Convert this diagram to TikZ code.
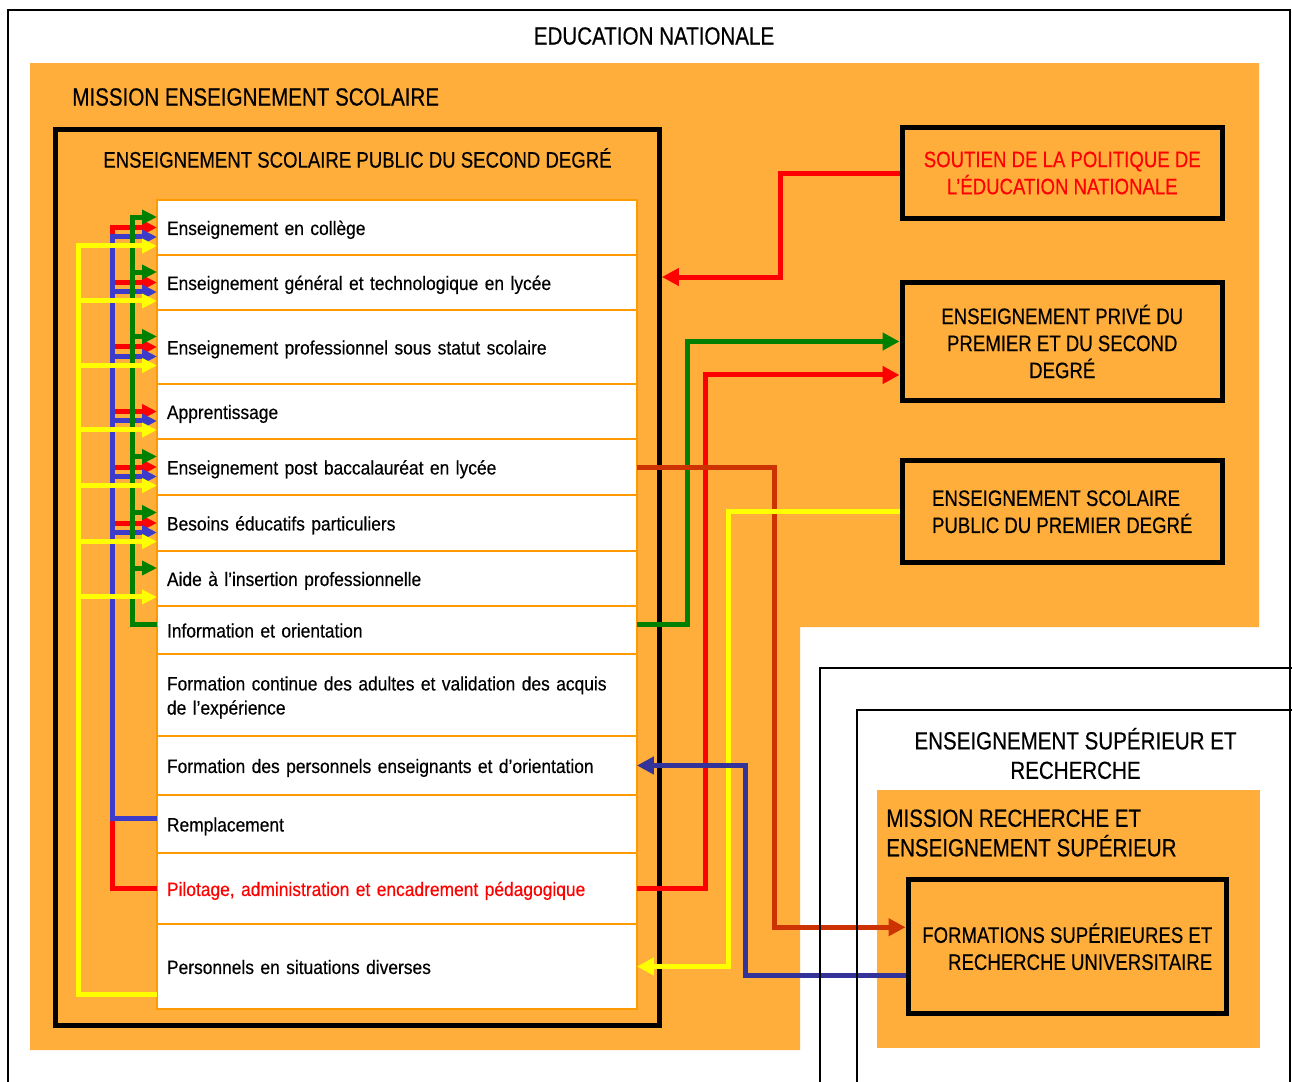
\documentclass[tikz,border=0pt]{standalone}
\usepackage{fontspec}
\setmainfont[FakeStretch=0.9,FakeBold=0.4]{Liberation Sans}
\newfontfamily\capsfam[FakeStretch=0.83,FakeBold=0.4]{Liberation Sans}
\usetikzlibrary{arrows.meta}

\definecolor{mission}{RGB}{255,174,59}
\definecolor{rowline}{RGB}{255,153,0}
\definecolor{lgreen}{RGB}{0,128,0}
\definecolor{lblue}{RGB}{60,60,200}
\definecolor{dblue}{RGB}{51,51,153}
\definecolor{rust}{RGB}{204,51,0}
\definecolor{lred}{RGB}{255,0,0}
\definecolor{lyellow}{RGB}{255,255,0}

\newcommand{\headfont}{\capsfam\fontsize{14.1}{16.8}\selectfont}
\newcommand{\boxfont}{\capsfam\fontsize{12.75}{15.4}\selectfont}
\newcommand{\rowfont}{\fontsize{11}{13.7}\selectfont}

\begin{document}
\begin{tikzpicture}[
  x=0.02cm, y=-0.02cm,
  rowbox/.style={draw=rowline, fill=white, line width=0.04cm, outer sep=0pt,
    anchor=north west, minimum width=9.6cm, text width=9.2cm, align=left,
    inner xsep=0.2cm, inner ysep=0pt, font=\rowfont,
    text height=0.85em, text depth=0pt},
  thickbox/.style={draw=black, line width=0.1cm, inner sep=0pt},
  thinline/.style={draw=black, line width=0.04cm},
  conn/.style={line width=0.1cm},
  ltip/.style={-{Triangle[length=0.3cm,width=0.28cm]}},
  rtip/.style={-{Triangle[length=0.34cm,width=0.34cm]}}
  ]
	\useasboundingbox (0,0) rectangle (1292,1082);
	\fill[white] (0,0) rectangle (1292,1082);

	% frames
	\draw[thinline] (8,1082) -- (8,10) -- (1290,10) -- (1290,1082);
	\fill[mission] (30,63) -- (1259,63) -- (1259,627) -- (800,627) -- (800,1050) -- (30,1050) -- cycle;
	\node[font=\headfont] (edu) at (654,36) {EDUCATION NATIONALE};
	\node[font=\headfont, anchor=west, inner sep=0pt] (mes) at (72,97) {MISSION ENSEIGNEMENT SCOLAIRE};

	\node[thickbox, minimum width=12.08cm, minimum height=17.93cm] (secframe) at (357.5,577.75) {};
	\node[font=\boxfont, anchor=west, inner sep=0pt] (sectitle) at (103,158) {ENSEIGNEMENT SCOLAIRE PUBLIC DU SECOND DEGRÉ};

	% programmes
	\node[rowbox, minimum height=1.1cm] (r1) at (157,200) {Enseignement en collège};
	\node[rowbox, minimum height=1.1cm] (r2) at (157,255) {Enseignement général et technologique en lycée};
	\node[rowbox, minimum height=1.48cm] (r3) at (157,310) {Enseignement professionnel sous statut scolaire};
	\node[rowbox, minimum height=1.1cm] (r4) at (157,384) {Apprentissage};
	\node[rowbox, minimum height=1.12cm] (r5) at (157,439) {Enseignement post baccalauréat en lycée};
	\node[rowbox, minimum height=1.12cm] (r6) at (157,495) {Besoins éducatifs particuliers};
	\node[rowbox, minimum height=1.1cm] (r7) at (157,551) {Aide à l’insertion professionnelle};
	\node[rowbox, minimum height=0.96cm] (r8) at (157,606) {Information et orientation};
	\node[rowbox, minimum height=1.64cm, text depth=13.7pt] (r9) at (157,654) {Formation continue des adultes et validation des acquis\\de l’expérience};
	\node[rowbox, minimum height=1.18cm] (r10) at (157,736) {Formation des personnels enseignants et d’orientation};
	\node[rowbox, minimum height=1.16cm] (r11) at (157,795) {Remplacement};
	\node[rowbox, minimum height=1.42cm, text=lred] (r12) at (157,853) {Pilotage, administration et encadrement pédagogique};
	\node[rowbox, minimum height=1.7cm] (r13) at (157,924) {Personnels en situations diverses};

	% other programmes
	\node[thickbox, minimum width=6.41cm, minimum height=1.84cm, align=center, font=\boxfont, text=lred] (soutien) at (1062.25,173) {SOUTIEN DE LA POLITIQUE DE\\L’ÉDUCATION NATIONALE};
	\node[thickbox, minimum width=6.41cm, minimum height=2.38cm, align=center, font=\boxfont] (priv) at (1062.25,341.5) {ENSEIGNEMENT PRIVÉ DU\\PREMIER ET DU SECOND\\DEGRÉ};
	\node[thickbox, minimum width=6.41cm, minimum height=2.05cm, align=left, font=\boxfont] (pub1) at (1062.25,511.75) {ENSEIGNEMENT SCOLAIRE\\PUBLIC DU PREMIER DEGRÉ};

	% enseignement superieur
	\fill[mission] (877,790) rectangle (1260,1048);
	\node[font=\headfont, align=center] (esrtitle) at (1075.5,753.5) {ENSEIGNEMENT SUPÉRIEUR ET\\RECHERCHE};
	\node[font=\headfont, align=left, anchor=west, inner sep=0pt] (mres) at (886,833) {MISSION RECHERCHE ET\\ENSEIGNEMENT SUPÉRIEUR};
	\node[thickbox, minimum width=6.37cm, minimum height=2.68cm, align=right, font=\boxfont] (formbox) at (1067.25,946.75) {FORMATIONS SUPÉRIEURES ET\\RECHERCHE UNIVERSITAIRE};

	% left buses
	\coordinate (ybus) at (78,0);
	\coordinate (rbus) at (112,0);
	\coordinate (gbus) at (132,0);
	\foreach \r in {1,...,7} {
		\coordinate (g\r) at ([yshift=0.21cm]r\r.west);
		\coordinate (b\r) at ([yshift=-0.19cm]r\r.west);
		\coordinate (y\r) at ([yshift=-0.37cm]r\r.west);
	}
	\coordinate (g8) at ([yshift=0.11cm]r8.west);
	\coordinate (b11) at ([yshift=0.12cm]r11.west);
	\coordinate (y13) at ([yshift=-0.57cm]r13.west);

	\draw[conn, lred, ltip] (r12.west) -| (rbus |- r1.west) -- (r1.west);
	\foreach \r in {2,...,6}
		\draw[conn, lred, ltip] (rbus |- r\r.west) -- (r\r.west);

	\draw[conn, lblue, ltip] (b11) -| (rbus |- b1) -- (b1);
	\foreach \r in {2,...,6}
		\draw[conn, lblue, ltip] (rbus |- b\r) -- (b\r);

	\draw[conn, lgreen, ltip] (g8) -| (gbus |- g1) -- (g1);
	\foreach \r in {2,3,5,6,7}
		\draw[conn, lgreen, ltip] (gbus |- g\r) -- (g\r);

	\draw[conn, lyellow, ltip] (y13) -| (ybus |- y1) -- (y1);
	\foreach \r in {2,...,7}
		\draw[conn, lyellow, ltip] (ybus |- y\r) -- (y\r);

	% right links
	\draw[conn, lred, rtip] (soutien.west) -- ++(-119,0) |- (secframe.east |- 0,277);
	\draw[conn, lgreen, rtip] ([yshift=0.11cm]r8.east) -- ++(51,0) |- (priv.west);
	\draw[conn, lred, rtip] (r12.east) -- ++(69,0) |- ([yshift=-0.67cm]priv.west);
	\draw[conn, rust, rtip] (r5.east) -- ++(138,0) |- ([yshift=0.39cm]formbox.west);
	\draw[conn, lyellow, rtip] (pub1.west) -- ++(-171.5,0) |- (r13.east);
	\draw[conn, dblue, rtip] ([yshift=-0.57cm]formbox.west) -- ++(-160.5,0) |- (r10.east);

	\draw[thinline] (820,1082) -- (820,668) -- (1292,668);
	\draw[thinline] (857,1082) -- (857,710) -- (1292,710);
\end{tikzpicture}
\end{document}
